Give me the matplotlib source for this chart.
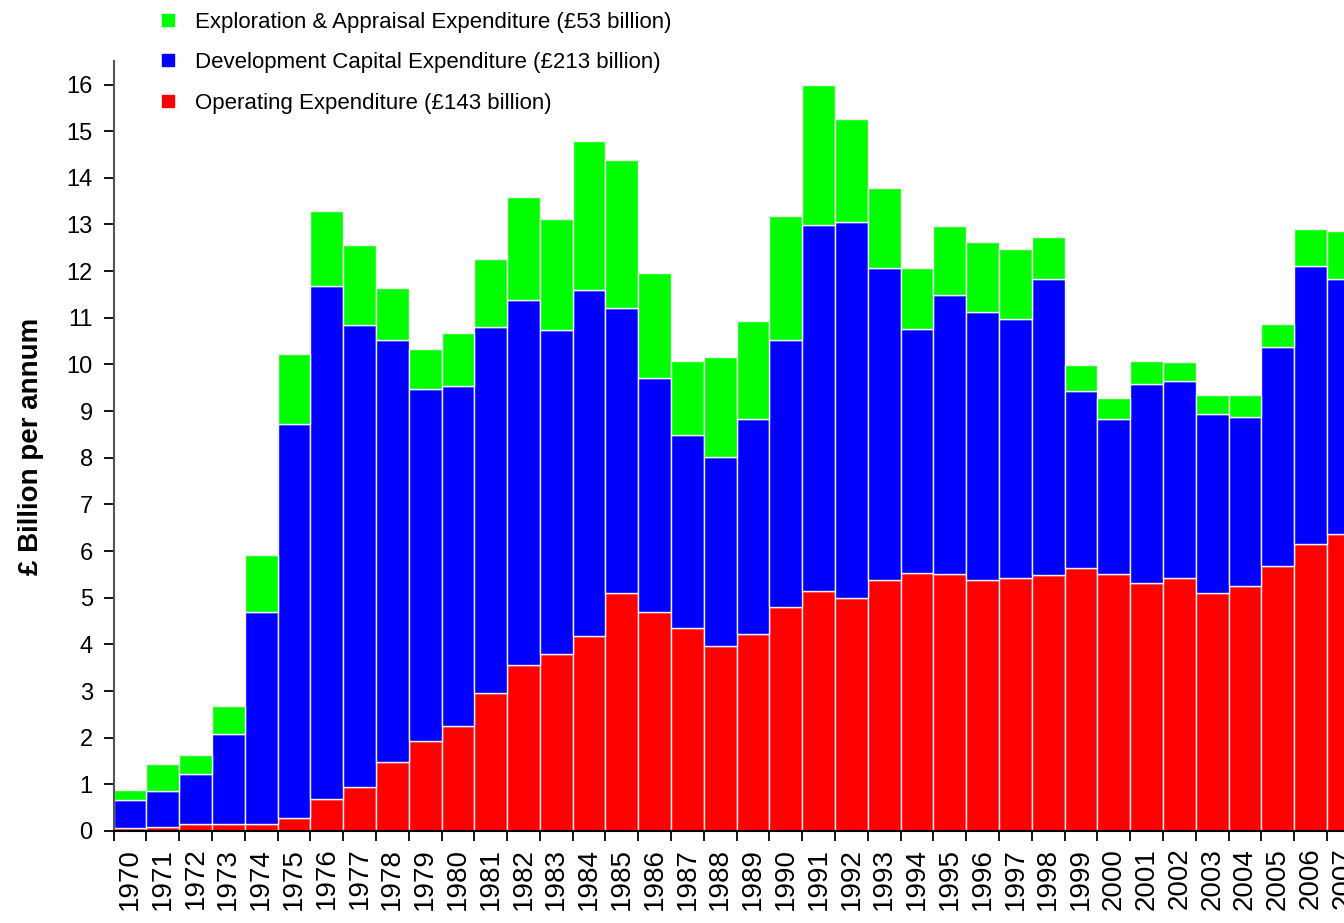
import matplotlib
matplotlib.use('Agg')
import matplotlib.pyplot as plt
from matplotlib.lines import Line2D
import numpy as np

plt.rcParams['font.family'] = ['Liberation Sans', 'DejaVu Sans']

years = list(range(1970, 2008))

# £ billion per annum
operating = [0.06, 0.09, 0.14, 0.16, 0.16, 0.27, 0.69, 0.94, 1.47, 1.92,
             2.24, 2.95, 3.55, 3.79, 4.17, 5.11, 4.70, 4.36, 3.97, 4.22,
             4.80, 5.14, 5.00, 5.39, 5.52, 5.50, 5.39, 5.42, 5.49, 5.63,
             5.50, 5.32, 5.43, 5.11, 5.25, 5.67, 6.16, 6.37]
development = [0.61, 0.77, 1.08, 1.92, 4.54, 8.45, 11.00, 9.90, 9.05, 7.55,
               7.30, 7.85, 7.83, 6.94, 7.42, 6.09, 5.02, 4.13, 4.05, 4.61,
               5.72, 7.85, 8.05, 6.68, 5.25, 5.98, 5.74, 5.56, 6.34, 3.80,
               3.33, 4.26, 4.21, 3.82, 3.62, 4.71, 5.94, 5.46]
exploration = [0.20, 0.58, 0.40, 0.60, 1.22, 1.51, 1.59, 1.72, 1.12, 0.86,
               1.14, 1.46, 2.20, 2.38, 3.20, 3.18, 2.23, 1.59, 2.13, 2.10,
               2.66, 2.99, 2.22, 1.71, 1.29, 1.49, 1.50, 1.50, 0.90, 0.55,
               0.45, 0.50, 0.41, 0.42, 0.48, 0.48, 0.80, 1.03]

labels = ['Exploration & Appraisal Expenditure (£53 billion)',
          'Development Capital Expenditure (£213 billion)',
          'Operating Expenditure (£143 billion)']

fig = plt.figure(figsize=(13.44, 9.23), dpi=100)
ax = fig.add_axes([0.0845, 0.0997, 0.9155, 0.834])

x = np.arange(len(years))
op = np.array(operating)
dev = np.array(development)
ex = np.array(exploration)

bar_kw = dict(width=1.0, edgecolor='#f0f0f0', linewidth=1.0)
ax.bar(x, op, color='#ff0000', **bar_kw)
ax.bar(x, dev, bottom=op, color='#0000ff', **bar_kw)
ax.bar(x, ex, bottom=op + dev, color='#00ff00', **bar_kw)

ax.set_yticks(range(0, 17))
ax.tick_params(axis='y', labelsize=17, length=7, width=1.3, pad=8)
ax.set_xticks(x)
ax.set_xticklabels([str(y) for y in years], rotation=90, fontsize=20)
ax.tick_params(axis='x', which='major', length=0, pad=12)
ax.set_xticks(np.arange(-0.5, 36.6, 1), minor=True)
ax.tick_params(axis='x', which='minor', length=7, width=1.3)
# chart is cut off part way through the 2007 bar
ax.set_xlim(-0.5, 37.02)
ax.set_ylim(0, 16.5)

ax.spines['top'].set_visible(False)
ax.spines['right'].set_visible(False)
ax.spines['left'].set_color('#555555')
ax.spines['left'].set_linewidth(1.5)
ax.spines['bottom'].set_linewidth(1.5)

ax.set_ylabel('£ Billion per annum', fontsize=20, fontweight='bold', labelpad=16)

handles = [Line2D([], [], marker='s', linestyle='none', color=c, markersize=8)
           for c in ['#00ff00', '#0000ff', '#ff0000']]
fig.legend(handles, labels, loc='upper left', bbox_to_anchor=(0.102, 1.009),
           frameon=False, fontsize=16, labelspacing=0.88, handletextpad=0.7,
           handlelength=1.0)

fig.savefig('out.png', dpi=100)
